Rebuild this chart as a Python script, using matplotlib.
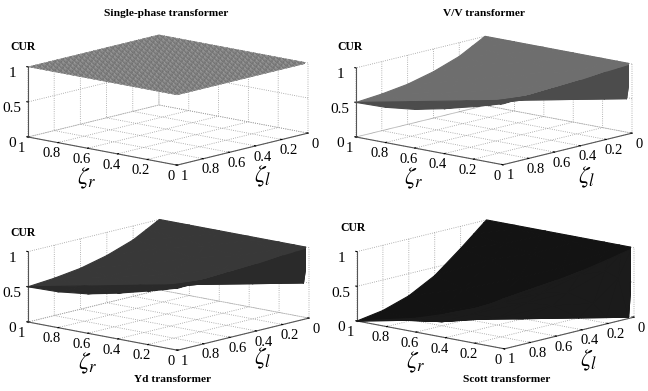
import numpy as np
import matplotlib
matplotlib.use("Agg")
import matplotlib.pyplot as plt
from mpl_toolkits.mplot3d import proj3d

plt.rcParams['font.family'] = ['Liberation Serif', 'DejaVu Serif']
plt.rcParams['mathtext.fontset'] = 'stix'

# grid the surfaces were read on, denser near 0 where the surface folds
ZETA = [0, 0.02, 0.1, 0.2, 0.4, 0.6, 0.8, 1]
TICKS = [0, 0.2, 0.4, 0.6, 0.8, 1]
TICK_LABELS = ['0', '0.2', '0.4', '0.6', '0.8', '1']
Z_TICKS = [0, 0.5, 1]
Z_LABELS = ['0', '0.5', '1']

# rows are zeta_l, columns are zeta_r
CUR_VV = [
    [1.00, 1.00, 1.00, 1.00, 1.00, 1.00, 1.00, 1.00],
    [0.99, 0.50, 0.80, 0.90, 0.95, 0.97, 0.975, 0.98],
    [0.98, 0.82, 0.50, 0.62, 0.77, 0.83, 0.87, 0.90],
    [0.97, 0.90, 0.66, 0.50, 0.62, 0.71, 0.77, 0.80],
    [0.94, 0.90, 0.78, 0.66, 0.50, 0.56, 0.62, 0.67],
    [0.92, 0.90, 0.80, 0.72, 0.55, 0.50, 0.54, 0.58],
    [0.90, 0.88, 0.80, 0.74, 0.62, 0.53, 0.50, 0.53],
    [0.88, 0.87, 0.82, 0.76, 0.65, 0.56, 0.51, 0.50],
]
CUR_YD = [
    [1.00, 1.00, 1.00, 1.00, 1.00, 1.00, 1.00, 1.00],
    [0.99, 0.50, 0.80, 0.90, 0.95, 0.97, 0.975, 0.98],
    [0.98, 0.82, 0.50, 0.62, 0.77, 0.83, 0.87, 0.90],
    [0.97, 0.90, 0.66, 0.50, 0.62, 0.71, 0.77, 0.80],
    [0.94, 0.90, 0.78, 0.66, 0.50, 0.56, 0.62, 0.67],
    [0.92, 0.90, 0.80, 0.72, 0.55, 0.50, 0.54, 0.58],
    [0.90, 0.88, 0.80, 0.74, 0.62, 0.53, 0.50, 0.53],
    [0.88, 0.87, 0.82, 0.76, 0.65, 0.56, 0.51, 0.50],
]
CUR_SCOTT = [
    [1.00, 1.00, 1.00, 1.00, 1.00, 1.00, 1.00, 1.00],
    [0.99, 0.00, 0.68, 0.85, 0.92, 0.95, 0.96, 0.97],
    [0.96, 0.60, 0.00, 0.27, 0.60, 0.72, 0.78, 0.84],
    [0.92, 0.75, 0.25, 0.00, 0.27, 0.42, 0.60, 0.68],
    [0.85, 0.78, 0.50, 0.27, 0.00, 0.12, 0.27, 0.38],
    [0.80, 0.76, 0.58, 0.40, 0.10, 0.00, 0.05, 0.18],
    [0.76, 0.74, 0.62, 0.48, 0.25, 0.06, 0.00, 0.06],
    [0.72, 0.70, 0.60, 0.50, 0.34, 0.20, 0.10, 0.00],
]

TITLES = ['Single-phase transformer', 'V/V transformer', 'Yd transformer', 'Scott transformer']
TITLE_Y = [13, 13, 380, 380]
TITLE_X = [166, 484, 172, 507]
# pixel position of the floor: left corner x, right corner x, left corner y
FLOOR = [(28, 308, 137), (356, 632, 137), (28, 309, 322), (357, 634, 321)]
FAR_COLOR = ['#8a8a8a', '#6e6e6e', '#383838', '#131313']
NEAR_COLOR = ['#8a8a8a', '#4c4c4c', '#2a2a2a', '#1b1b1b']
CUR_XY = [(10, 47), (337, 47), (10, 233), (340, 228)]
ZR_XY = [(87, 178), (414, 178), (88, 363), (416, 362)]
ZL_XY = [(263, 176), (587, 177), (263, 358), (589, 360)]

W, H = 648, 391

fig = plt.figure(figsize=(W / 100, H / 100), dpi=100)


def corners(ax):
    x, y, _ = proj3d.proj_transform(1, 1, 0, ax.get_proj())
    xr, yr, _ = proj3d.proj_transform(0, 0, 0, ax.get_proj())
    return ax.transData.transform((x, y)), ax.transData.transform((xr, yr))


def fold_triangles(n):
    # split every cell so that the crease runs along zeta_r = zeta_l
    far, near = [], []
    for r in range(n - 1):
        for c in range(n - 1):
            a, b, d, e = r * n + c, r * n + c + 1, (r + 1) * n + c, (r + 1) * n + c + 1
            tris = [[a, b, e], [a, e, d]]
            if c > r:
                far += tris
            elif c < r:
                near += tris
            else:
                far.append(tris[0])
                near.append(tris[1])
    return far, near


def draw_panel(i, cur):
    ax = fig.add_axes([0.1, 0.1, 300 / W, 300 / H], projection='3d', proj_type='ortho',
                      computed_zorder=False)
    ax.view_init(elev=12.4, azim=131.3)
    ax.set_box_aspect((1, 1, 0.362))
    ax.set_xlim(0, 1)
    ax.set_ylim(0, 1)
    ax.set_zlim(0, 1)
    ax.patch.set_alpha(0)

    if cur is None:
        # flat surface at 1, fine mesh gives the grey moire
        mesh = np.linspace(0, 1, 51)
        xx, yy = np.meshgrid(mesh, mesh)
        ax.plot_surface(xx, yy, np.ones_like(xx), color='#b4b4b4', shade=False,
                        rstride=1, cstride=1, edgecolor='#4a4a4a', linewidth=0.2)
    else:
        xx, yy = np.meshgrid(ZETA, ZETA)
        zz = np.array(cur)
        far, near = fold_triangles(len(ZETA))
        ax.plot_trisurf(xx.ravel(), yy.ravel(), zz.ravel(), triangles=far, color=FAR_COLOR[i],
                        shade=False, edgecolor=FAR_COLOR[i], linewidth=0.8, zorder=3)
        ax.plot_trisurf(xx.ravel(), yy.ravel(), zz.ravel(), triangles=near, color=NEAR_COLOR[i],
                        shade=False, edgecolor=NEAR_COLOR[i], linewidth=0.8, zorder=4)

    ax.set_xticks(TICKS, TICK_LABELS, fontsize=10.5)
    ax.set_yticks(TICKS, TICK_LABELS, fontsize=10.5)
    ax.set_zticks(Z_TICKS, Z_LABELS, fontsize=11)
    for axis in (ax.xaxis, ax.yaxis, ax.zaxis):
        axis.set_pane_color((1, 1, 1, 0))
        axis.pane.set_edgecolor('#999999')
        axis.pane.set_linestyle(':')
        axis.pane.set_linewidth(0.7)
        axis.line.set_color('#555555')
        axis._axinfo['grid'].update(color='#999999', linewidth=0.6, linestyle=':')
        axis._axinfo['tick'].update(inward_factor=0.0, outward_factor=0.1)
    ax.tick_params(axis='x', pad=-3)
    ax.tick_params(axis='y', pad=-3)
    ax.tick_params(axis='z', pad=-2)
    ax.zaxis._axinfo['juggled'] = (1, 2, 0)

    # fit the floor on to the measured corners
    fig.canvas.draw()
    (lx, ly), (rx, ry) = corners(ax)
    size = 300 * (FLOOR[i][1] - FLOOR[i][0]) / (rx - lx)
    ax.set_position([0.1, 0.1, size / W, size / H])
    fig.canvas.draw()
    (lx, ly), _ = corners(ax)
    dx = FLOOR[i][0] - lx
    dy = (H - FLOOR[i][2]) - ly
    ax.set_position([0.1 + dx / W, 0.1 + dy / H, size / W, size / H])

    fig.text(ZR_XY[i][0] / W, 1 - ZR_XY[i][1] / H, r'$\zeta_r$', fontsize=17, va='center', ha='center')
    fig.text(ZL_XY[i][0] / W, 1 - ZL_XY[i][1] / H, r'$\zeta_l$', fontsize=17, va='center', ha='center')
    fig.text(CUR_XY[i][0] / W, 1 - CUR_XY[i][1] / H, 'CUR', fontsize=8.5,
             fontweight='bold', va='center', ha='left')
    fig.text(TITLE_X[i] / W, 1 - TITLE_Y[i] / H, TITLES[i], fontsize=8.2,
             fontweight='bold', va='center', ha='center')


for i, cur in enumerate([None, CUR_VV, CUR_YD, CUR_SCOTT]):
    draw_panel(i, cur)

fig.savefig('out.png', dpi=100)
